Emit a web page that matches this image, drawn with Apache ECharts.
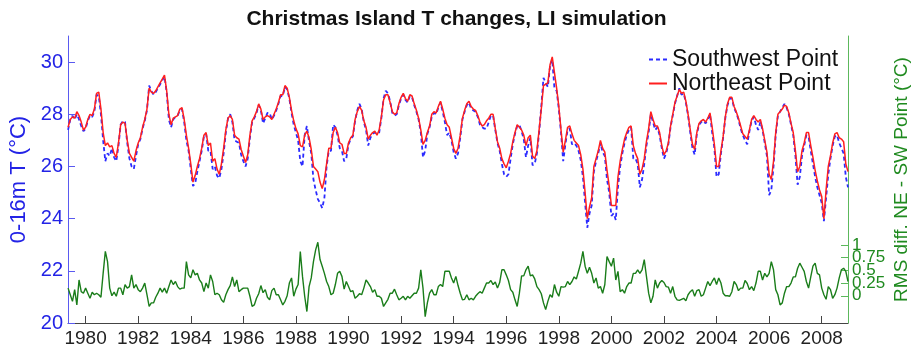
<!DOCTYPE html>
<html>
<head>
<meta charset="utf-8">
<script src="https://cdn.jsdelivr.net/npm/echarts@6/dist/echarts.min.js"></script>
<style>
html,body{margin:0;padding:0;background:#fff;}
#chart{width:913px;height:352px;}
</style>
</head>
<body>
<div id="chart"></div>
<script>
// Monthly samples, first sample May 1979, last Jan 2009
const START_YEAR = 1979;
const START_MONTH = 5;

const xTickYears = [1980,1982,1984,1986,1988,1990,1992,1994,1996,1998,2000,2002,2004,2006,2008];
const leftTicks = [20,22,24,26,28,30];
const rightTicksMain = [0,0.5,1];
const rightTicksQuarter = [0.25,0.75];

// Northeast Point, 0-16 m temperature (deg C)
const neTemp = [
 27.5,27.8,27.9,27.85,28.1,27.95,27.7,27.4,
 27.5,27.8,28.0,27.95,28.2,28.8,28.85,28.2,27.3,26.8,26.9,26.75,
 26.8,26.5,26.35,26.9,27.6,27.7,27.65,27.0,26.5,26.35,26.2,26.6,
 26.9,27.1,27.5,27.8,28.2,29.0,28.85,28.8,28.9,29.05,29.2,29.35,
 29.5,28.9,28.0,27.6,27.85,27.9,27.95,28.2,28.25,27.8,27.2,26.7,
 26.1,25.4,25.65,26.0,26.3,26.7,27.2,27.3,26.8,26.9,26.2,26.3,
 25.9,25.7,26.1,26.7,27.4,27.85,27.95,27.8,27.2,27.1,27.05,26.65,
 26.4,26.15,26.45,27.2,27.75,27.9,28.1,28.4,28.2,27.8,27.9,27.95,
 27.9,27.8,28.0,28.2,28.45,28.75,28.75,29.1,29.0,28.65,28.15,27.75,
 27.45,27.25,26.8,26.75,27.2,27.35,27.1,26.65,26.0,25.9,25.8,25.4,
 25.15,25.5,26.1,26.7,26.7,27.3,27.5,27.3,26.9,26.85,26.5,26.5,
 26.9,27.1,27.2,27.8,28.1,28.3,28.15,27.75,27.5,27.05,27.2,27.3,
 27.35,27.2,27.4,27.9,28.55,28.75,28.75,28.45,28.1,28.0,28.05,28.4,
 28.65,28.8,28.6,28.5,28.75,28.7,28.4,28.15,27.85,27.4,26.85,27.0,
 27.3,27.55,28.0,28.1,28.05,28.3,28.5,28.2,27.85,27.6,27.5,27.1,
 26.7,26.5,26.7,27.2,27.85,28.15,28.4,28.5,28.3,28.2,28.15,27.95,
 27.7,27.55,27.6,27.75,27.85,28.0,28.0,27.45,26.95,26.7,26.3,26.1,
 25.95,26.2,26.5,26.95,27.3,27.6,27.5,27.4,27.2,26.8,27.1,27.2,
 26.4,26.3,26.6,27.4,28.2,29.1,29.15,29.2,29.9,30.2,29.6,29.0,
 28.3,27.4,26.55,27.0,27.5,27.55,27.25,27.0,26.9,26.8,26.45,25.9,
 25.0,24.0,24.45,24.8,26.0,26.3,26.6,27.0,26.7,26.55,25.85,25.25,
 24.5,24.5,24.5,25.6,26.2,26.65,27.05,27.3,27.5,27.55,26.8,26.5,
 26.3,25.7,25.9,26.3,26.95,27.45,28.1,27.8,27.55,27.55,27.3,26.8,
 26.45,26.6,26.9,27.55,28.0,28.45,28.7,28.95,28.8,28.85,28.5,28.0,
 27.4,26.85,26.65,27.3,27.65,27.75,27.8,27.7,27.85,28.05,27.5,26.85,
 26.0,26.0,26.6,27.15,27.9,28.4,28.65,28.65,28.3,28.1,27.85,27.55,
 27.25,27.15,27.05,27.4,27.8,27.95,27.8,27.7,27.8,27.45,27.0,26.55,
 25.7,25.5,26.2,27.3,28.0,28.1,28.2,28.35,28.3,28.05,27.65,27.3,
 26.6,25.8,26.0,26.6,26.9,27.3,27.3,26.8,26.35,25.85,25.45,25.1,
 24.85,24.0,25.1,26.0,26.4,26.9,27.25,27.3,27.1,27.05,26.95,26.1,
 25.8
];

// Southwest Point, 0-16 m temperature (deg C)
const swTemp = [
 27.4,27.8,27.95,27.8,28.0,27.8,27.55,27.35,
 27.45,27.75,27.95,27.9,28.1,28.75,28.7,28.0,27.0,26.2,26.5,26.4,
 26.7,26.35,26.2,26.8,27.6,27.75,27.7,26.9,26.3,26.0,25.9,26.4,
 26.85,27.05,27.45,27.75,28.15,29.1,28.9,28.75,28.85,29.0,29.15,29.3,
 29.45,28.85,27.8,27.5,27.8,27.9,27.95,28.15,28.2,27.7,27.0,26.6,
 25.9,25.25,25.35,25.8,26.2,26.6,27.15,27.25,26.6,26.6,25.9,26.0,
 25.65,25.55,25.9,26.5,27.3,27.85,28.0,27.7,27.0,26.95,26.9,26.45,
 26.2,26.0,26.3,27.1,27.7,27.85,28.05,28.35,28.15,27.65,27.85,28.05,
 28.05,27.8,27.95,28.15,28.4,28.7,28.7,29.05,28.95,28.6,28.05,27.6,
 27.3,27.0,26.2,26.0,27.2,27.55,26.95,26.5,25.5,25.1,24.75,24.6,
 24.4,24.8,26.0,26.6,26.6,27.6,27.5,27.2,26.7,26.6,26.2,26.3,
 26.85,27.05,27.15,27.75,28.15,28.4,28.2,27.7,27.4,26.8,27.1,27.25,
 27.3,27.25,27.3,27.85,28.6,28.9,28.8,28.5,28.05,27.95,28.0,28.35,
 28.6,28.75,28.55,28.45,28.7,28.65,28.35,28.1,27.8,27.3,26.35,26.6,
 27.25,27.5,27.9,28.05,28.0,28.25,28.45,28.1,27.7,27.2,27.3,27.0,
 26.55,26.3,26.5,27.1,27.8,28.1,28.35,28.45,28.2,28.15,28.1,27.9,
 27.6,27.5,27.45,27.45,27.7,27.95,27.95,27.4,26.9,26.6,26.1,25.7,
 25.6,25.7,26.3,26.85,27.25,27.55,27.6,27.35,27.05,26.35,26.8,27.1,
 26.05,26.1,26.5,27.3,28.3,29.4,29.2,29.05,29.85,30.1,29.0,28.9,
 28.2,27.3,26.2,26.85,27.4,27.45,26.85,26.9,26.8,26.6,26.25,25.6,
 24.6,23.65,24.2,24.5,25.8,26.2,26.5,26.9,26.55,26.4,25.5,25.0,
 24.1,24.2,23.95,25.2,26.0,26.5,26.9,27.2,27.4,27.5,26.3,26.3,
 26.1,25.2,25.5,26.1,26.8,27.3,28.0,27.7,27.4,27.5,27.2,26.7,
 26.3,26.5,26.85,27.5,27.95,28.4,28.7,29.0,28.75,28.8,28.45,27.95,
 27.3,26.7,26.45,27.25,27.6,27.7,27.75,27.65,27.8,28.0,27.3,26.7,
 25.6,25.7,26.5,27.1,27.85,28.35,28.6,28.6,28.25,28.05,27.8,27.45,
 27.2,27.0,26.85,27.35,27.75,27.9,27.6,27.4,27.7,27.4,26.9,26.4,
 24.9,25.1,26.0,27.2,27.95,28.1,28.25,28.4,28.25,28.0,27.6,27.2,
 26.4,25.3,25.6,26.4,26.8,27.2,27.15,26.6,26.1,25.6,25.2,24.9,
 24.6,23.9,24.8,25.7,26.3,26.8,27.15,27.2,26.9,26.7,26.5,25.6,
 25.2
];

// RMS difference NE - SW Point (deg C), right axis
const rmsDiff = [
 0.15,0.02,-0.11,0.12,-0.18,0.31,0.08,0.05,
 0.15,0.05,-0.05,0.07,0.02,0.05,0.02,-0.03,0.44,0.87,0.67,0.15,
 0.0,0.07,-0.01,0.15,0.15,0.02,0.22,0.15,0.18,0.41,0.15,0.22,
 0.12,0.08,0.15,0.25,0.02,-0.21,-0.14,-0.14,-0.03,0.05,0.15,0.07,
 0.15,0.05,0.18,0.31,0.22,0.28,0.18,0.13,0.15,0.15,0.67,0.41,
 0.35,0.51,0.41,0.44,0.31,0.25,0.08,0.25,0.15,0.41,0.28,0.02,
 0.05,0.02,-0.08,-0.13,0.02,0.12,0.2,0.37,0.18,0.31,0.08,0.12,
 0.15,0.15,0.15,-0.01,-0.21,-0.18,-0.05,0.04,0.2,0.06,0.12,-0.03,
 -0.08,0.1,0.15,0.02,0.02,-0.08,-0.18,-0.11,0.0,0.25,0.35,-0.01,
 0.13,0.22,0.87,0.38,-0.01,-0.31,0.18,0.35,0.67,0.9,1.05,0.71,
 0.58,0.44,0.28,0.18,0.02,0.05,0.22,0.44,0.48,0.38,0.13,0.28,
 0.18,0.08,0.1,-0.05,-0.01,0.04,0.02,0.15,0.31,0.25,0.18,0.07,
 0.12,-0.01,-0.01,-0.05,-0.21,-0.14,-0.07,0.05,0.05,0.13,0.02,-0.08,
 -0.05,-0.01,-0.08,-0.01,-0.05,0.0,0.05,0.05,0.15,0.51,0.15,-0.41,
 -0.14,0.05,0.12,0.02,0.02,0.18,0.22,0.18,0.48,0.48,0.48,0.35,
 0.25,0.38,0.2,0.05,-0.08,-0.07,0.02,-0.08,-0.05,-0.08,-0.01,0.04,
 0.08,0.05,0.15,0.25,0.25,0.3,0.22,0.27,0.15,0.26,0.51,0.51,
 0.41,0.3,0.12,0.07,-0.08,-0.21,0.05,0.39,0.39,0.51,0.58,0.39,
 0.41,0.33,0.18,0.12,0.04,-0.14,-0.27,-0.11,0.02,-0.03,0.22,0.07,
 -0.01,0.18,0.17,0.18,0.28,0.22,0.28,0.37,0.33,0.48,0.64,0.87,
 0.58,0.44,0.56,0.44,0.25,0.35,0.15,0.18,0.05,0.22,0.77,0.67,
 0.58,0.74,0.31,0.48,0.08,0.12,0.05,0.18,0.25,0.25,0.44,0.44,
 0.51,0.44,0.51,0.71,0.38,0.05,-0.14,-0.01,0.31,0.15,0.25,0.3,
 0.26,0.18,0.17,0.05,0.18,-0.01,-0.08,-0.09,-0.07,-0.05,-0.1,0.02,
 0.08,0.12,-0.01,0.1,0.12,-0.01,0.02,0.15,0.28,0.2,0.28,0.35,
 0.22,0.35,0.25,0.05,0.0,0.0,-0.01,0.08,0.28,0.22,0.1,0.15,
 0.15,0.3,0.24,0.12,0.18,0.1,0.25,0.48,0.48,0.31,0.44,0.37,
 0.44,0.67,0.51,0.12,0.02,-0.18,-0.14,0.05,0.18,0.18,0.25,0.37,
 0.37,0.54,0.64,0.56,0.48,0.28,0.15,0.37,0.58,0.64,0.44,0.41,
 0.15,0.02,-0.07,0.18,0.12,-0.05,0.02,0.15,0.35,0.51,0.54,0.48,
 0.28
];

const monthTime = neTemp.map((_, i) => START_YEAR + (START_MONTH - 1 + i) / 12);
const pair = arr => arr.map((v, i) => [monthTime[i], v]);

const FONT = "'Liberation Sans', Arial, Helvetica, sans-serif";
const BLUE_TXT = '#2323e6';
const BLUE_AX = '#5a5af0';
const GREEN_TXT = '#1f8a1f';
const GREEN_AX = '#5cb85c';
const RIGHT_MIN = -0.535, RIGHT_MAX = 5.1;

function rightAxis(ticks, withName, withLine) {
  return {
    type: 'value',
    position: 'right',
    offset: 0,
    min: RIGHT_MIN,
    max: RIGHT_MAX,
    name: withName ? 'RMS diff. NE - SW Point (°C)' : '',
    nameLocation: 'middle',
    nameRotate: 90,
    nameGap: 44,
    nameTextStyle: {fontFamily: FONT, fontSize: 19, color: GREEN_TXT},
    axisLine: {show: withLine, onZero: false, lineStyle: {color: GREEN_AX, width: 1}},
    axisTick: {show: true, inside: true, length: 7, customValues: ticks, lineStyle: {color: GREEN_AX}},
    axisLabel: {customValues: ticks, fontFamily: FONT, fontSize: 17, color: GREEN_TXT, margin: 4,
      showMinLabel: true, showMaxLabel: true, hideOverlap: false,
      formatter: v => String(v)},
    splitLine: {show: false}
  };
}

const chart = echarts.init(document.getElementById('chart'), null, {renderer: 'canvas'});
chart.setOption({
  animation: false,
  backgroundColor: '#ffffff',
  title: {
    text: 'Christmas Island T changes, LI simulation',
    left: 'center',
    top: 4,
    textStyle: {fontFamily: FONT, fontSize: 21, fontWeight: 'bold', color: '#111'}
  },
  legend: {
    orient: 'vertical',
    left: 643,
    top: 43,
    itemWidth: 18,
    itemHeight: 10,
    itemGap: 1,
    itemStyle: {color: 'rgba(0,0,0,0)', borderWidth: 0, borderColor: 'rgba(0,0,0,0)', opacity: 0},
    data: ['Southwest Point', 'Northeast Point'],
    textStyle: {fontFamily: FONT, fontSize: 23, color: '#111', lineHeight: 23, padding: [0,0,0,0]}
  },
  grid: {left: 68, right: 65, top: 36, bottom: 29, containLabel: false, outerBoundsMode: 'none'},
  xAxis: {
    type: 'value',
    min: 1979.33,
    max: 2009.0,
    axisLine: {show: true, onZero: false, lineStyle: {color: '#444', width: 1}},
    axisTick: {show: true, inside: true, length: 7, customValues: xTickYears, lineStyle: {color: '#444'}},
    axisLabel: {customValues: xTickYears, fontFamily: FONT, fontSize: 19, color: '#222', margin: 6,
      formatter: v => String(v)},
    splitLine: {show: false}
  },
  yAxis: [
    {
      type: 'value',
      position: 'left',
      min: 20,
      max: 31,
      name: '0-16m T (°C)',
      nameLocation: 'middle',
      nameRotate: 90,
      nameGap: 34,
      nameTextStyle: {fontFamily: FONT, fontSize: 22, color: BLUE_TXT},
      axisLine: {show: true, onZero: false, lineStyle: {color: BLUE_AX, width: 1}},
      axisTick: {show: true, inside: true, length: 7, customValues: leftTicks, lineStyle: {color: BLUE_AX}},
      axisLabel: {customValues: leftTicks, fontFamily: FONT, fontSize: 20, color: BLUE_TXT, margin: 5,
        showMinLabel: true, showMaxLabel: true},
      splitLine: {show: false}
    },
    rightAxis(rightTicksMain, true, true),
    rightAxis(rightTicksQuarter, false, false)
  ],
  series: [
    {
      name: 'Southwest Point',
      type: 'line',
      yAxisIndex: 0,
      data: pair(swTemp),
      showSymbol: false,
      symbol: 'none',
      lineStyle: {color: '#2b2bff', width: 1.8, type: [4, 3]},
      itemStyle: {color: '#2b2bff'},
      z: 2
    },
    {
      name: 'Northeast Point',
      type: 'line',
      yAxisIndex: 0,
      data: pair(neTemp),
      showSymbol: false,
      symbol: 'none',
      lineStyle: {color: '#ff1f1f', width: 1.5},
      itemStyle: {color: '#ff1f1f'},
      z: 3
    },
    {
      name: 'RMS diff',
      type: 'line',
      yAxisIndex: 1,
      data: pair(rmsDiff),
      showSymbol: false,
      symbol: 'none',
      lineStyle: {color: '#1a7d1a', width: 1.4},
      itemStyle: {color: '#1a7d1a'},
      z: 2
    }
  ]
});
</script>
</body>
</html>
